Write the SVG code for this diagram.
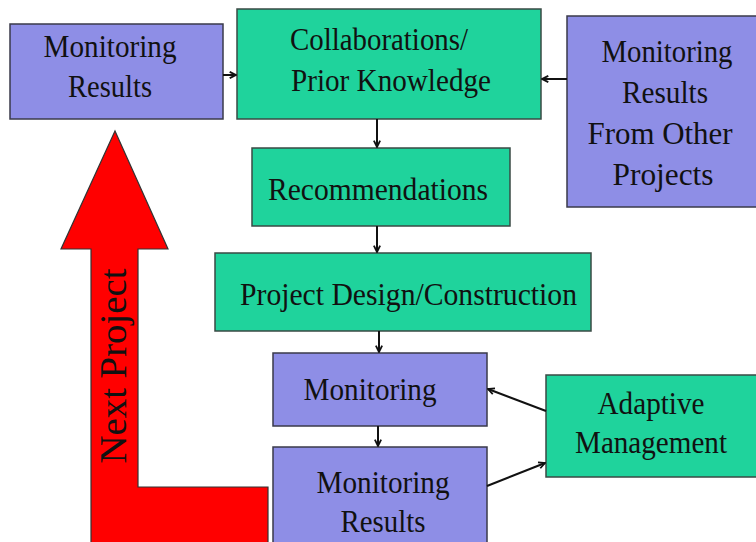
<svg xmlns="http://www.w3.org/2000/svg" width="756" height="542" viewBox="0 0 756 542">
<defs>
<style>
.p{fill:#8e8ee6;stroke:#3a3a4a;stroke-width:1.5}
.g{fill:#1fd39c;stroke:#3a4a44;stroke-width:1.5}
.t{font-family:"Liberation Serif","Times New Roman",serif;font-size:32px;fill:#111}
.m{text-anchor:middle}
.c{stroke:#111;stroke-width:2;fill:none;marker-end:url(#ah)}
</style>
<marker id="ah" viewBox="0 0 10 10" refX="9" refY="5" markerWidth="9" markerHeight="9" orient="auto" markerUnits="userSpaceOnUse">
<path d="M2,1.5 L9,5 L2,8.5" fill="none" stroke="#111" stroke-width="2"/>
</marker>
</defs>
<rect width="756" height="542" fill="#fff"/>
<g id="next-project">
<polygon points="115,131 168,249 138,249 138,487 268,487 268,545 91,545 91,249 61,249" fill="#ff0000" stroke="#333" stroke-width="1.2"/>
<text class="t m" transform="translate(126,366) rotate(-90)" style="font-size:37px" textLength="195" lengthAdjust="spacingAndGlyphs">Next Project</text>
</g>
<g id="monitoring-results-top">
<rect class="p" x="10" y="24" width="213" height="95"/>
<text class="t m" x="110" y="57" textLength="133" lengthAdjust="spacingAndGlyphs">Monitoring</text>
<text class="t m" x="110" y="97" textLength="84" lengthAdjust="spacingAndGlyphs">Results</text>
</g>
<g id="collaborations">
<rect class="g" x="237" y="9" width="304" height="110"/>
<text class="t" x="290" y="50" textLength="178" lengthAdjust="spacingAndGlyphs">Collaborations/</text>
<text class="t" x="291" y="91" textLength="200" lengthAdjust="spacingAndGlyphs">Prior Knowledge</text>
</g>
<g id="other-projects">
<rect class="p" x="567" y="16" width="190" height="191"/>
<text class="t m" x="667" y="62" textLength="131" lengthAdjust="spacingAndGlyphs">Monitoring</text>
<text class="t m" x="665" y="103" textLength="86" lengthAdjust="spacingAndGlyphs">Results</text>
<text class="t m" x="660" y="144" textLength="145" lengthAdjust="spacingAndGlyphs">From Other</text>
<text class="t m" x="663" y="185" textLength="101" lengthAdjust="spacingAndGlyphs">Projects</text>
</g>
<g id="recommendations">
<rect class="g" x="252" y="148" width="258" height="78"/>
<text class="t m" x="378" y="200" textLength="220" lengthAdjust="spacingAndGlyphs">Recommendations</text>
</g>
<g id="project-design">
<rect class="g" x="215" y="253" width="376" height="78"/>
<text class="t" x="240" y="305" textLength="337" lengthAdjust="spacingAndGlyphs">Project Design/Construction</text>
</g>
<g id="monitoring">
<rect class="p" x="273" y="353" width="214" height="73"/>
<text class="t m" x="370" y="400" textLength="133" lengthAdjust="spacingAndGlyphs">Monitoring</text>
</g>
<g id="monitoring-results-bottom">
<rect class="p" x="273" y="447" width="214" height="100"/>
<text class="t m" x="383" y="493" textLength="133" lengthAdjust="spacingAndGlyphs">Monitoring</text>
<text class="t m" x="383" y="532" textLength="85" lengthAdjust="spacingAndGlyphs">Results</text>
</g>
<g id="adaptive-management">
<rect class="g" x="546" y="375" width="212" height="102"/>
<text class="t m" x="651" y="414" textLength="107" lengthAdjust="spacingAndGlyphs">Adaptive</text>
<text class="t m" x="651" y="453" textLength="152" lengthAdjust="spacingAndGlyphs">Management</text>
</g>
<g id="connectors">
<line class="c" x1="223" y1="75" x2="236" y2="75"/>
<line class="c" x1="567" y1="79" x2="542" y2="79"/>
<line class="c" x1="377" y1="119" x2="377" y2="147"/>
<line class="c" x1="377" y1="226" x2="377" y2="252"/>
<line class="c" x1="379" y1="331" x2="379" y2="352"/>
<line class="c" x1="378" y1="426" x2="378" y2="446"/>
<line class="c" x1="546" y1="411" x2="488" y2="389"/>
<line class="c" x1="487" y1="486" x2="545" y2="463"/>
</g>
</svg>
